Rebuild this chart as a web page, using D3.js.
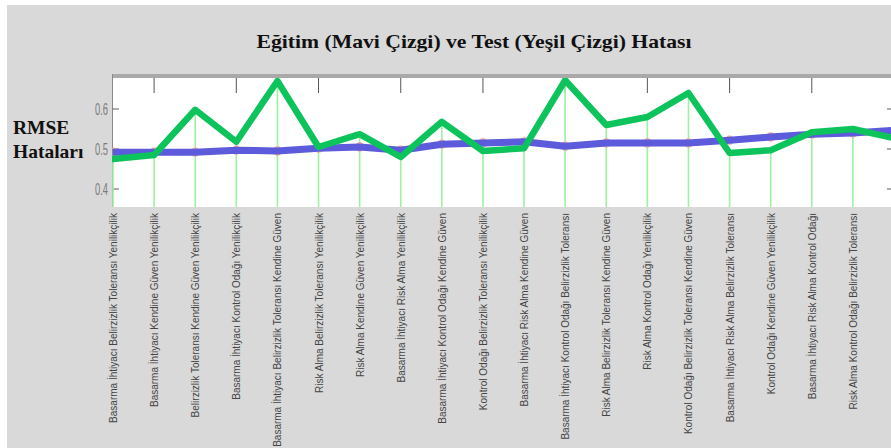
<!DOCTYPE html>
<html><head><meta charset="utf-8">
<script src="https://cdn.jsdelivr.net/npm/d3@7"></script>
<style>body{margin:0;background:#fff}svg{display:block}</style>
</head><body>
<svg id="c" width="891" height="448"></svg>
<script>
const categories = [
  "Basarma İhtiyacı Belirzizlik Toleransı Yenilikçilik",
  "Basarma İhtiyacı Kendine Güven Yenilikçilik",
  "Belirzizlik Toleransı Kendine Güven Yenilikçilik",
  "Basarma İhtiyacı Kontrol Odağı Yenilikçilik",
  "Basarma İhtiyacı Belirzizlik Toleransı Kendine Güven",
  "Risk Alma Belirzizlik Toleransı Yenilikçilik",
  "Risk Alma Kendine Güven Yenilikçilik",
  "Basarma İhtiyacı Risk Alma Yenilikçilik",
  "Basarma İhtiyacı Kontrol Odağı Kendine Güven",
  "Kontrol Odağı Belirzizlik Toleransı Yenilikçilik",
  "Basarma İhtiyacı Risk Alma Kendine Güven",
  "Basarma İhtiyacı Kontrol Odağı Belirzizlik Toleransı",
  "Risk Alma Belirzizlik Toleransı Kendine Güven",
  "Risk Alma Kontrol Odağı Yenilikçilik",
  "Kontrol Odağı Belirzizlik Toleransı Kendine Güven",
  "Basarma İhtiyacı Risk Alma Belirzizlik Toleransı",
  "Kontrol Odağı Kendine Güven Yenilikçilik",
  "Basarma İhtiyacı Risk Alma Kontrol Odağı",
  "Risk Alma Kontrol Odağı Belirzizlik Toleransı",
  "Risk Alma Kontrol Odağı Kendine Güven"
];
const trainRMSE = [0.492,0.492,0.492,0.497,0.495,0.502,0.505,0.497,0.512,0.515,0.518,0.507,0.515,0.515,0.515,0.522,0.530,0.537,0.540,0.547];
const testRMSE  = [0.475,0.485,0.598,0.518,0.670,0.505,0.537,0.480,0.568,0.495,0.502,0.672,0.560,0.580,0.640,0.490,0.497,0.542,0.550,0.527];
const yTicks = [0.4,0.5,0.6];
const yTickLabels = ["0.4","0.5","0.6"];
const titleText = "Eğitim (Mavi Çizgi) ve Test (Yeşil Çizgi) Hatası";
const yLabelLines = ["RMSE","Hataları"];

const svg = d3.select("#c");
const W = 891, H = 448;
const plot = {left:112, right:894, top:78, bottom:207};

svg.append("rect").attr("x",0).attr("y",0).attr("width",W).attr("height",H).attr("fill","#fff");
svg.append("rect").attr("x",7).attr("y",5).attr("width",W-7).attr("height",H-5).attr("fill","#d9d9d9");

const x = d3.scalePoint().domain(d3.range(categories.length)).range([plot.left+1, plot.right]);
const y = d3.scaleLinear().domain([0.4,0.6]).range([189,109]);

// plot background and frame
svg.append("rect").attr("x",plot.left).attr("y",plot.top).attr("width",plot.right-plot.left).attr("height",plot.bottom-plot.top).attr("fill","#fff");
svg.append("rect").attr("x",plot.left).attr("y",plot.top-4).attr("width",plot.right-plot.left).attr("height",4).attr("fill","#a9a9a9");
svg.append("line").attr("x1",plot.left+0.5).attr("x2",plot.left+0.5).attr("y1",plot.top-4).attr("y2",plot.bottom).attr("stroke","#8a8a8a").attr("stroke-width",1);

svg.append("clipPath").attr("id","pc").append("rect")
  .attr("x",plot.left).attr("y",plot.top).attr("width",plot.right-plot.left).attr("height",plot.bottom-plot.top);
const g = svg.append("g").attr("clip-path","url(#pc)");

// top ticks (every other category)
g.selectAll("line.tt").data(d3.range(1,categories.length,2)).join("line")
  .attr("x1",d=>x(d)).attr("x2",d=>x(d)).attr("y1",plot.top).attr("y2",plot.top+15)
  .attr("stroke","#555").attr("stroke-width",1);

// y ticks left and right
g.selectAll("line.yl").data(yTicks).join("line")
  .attr("x1",plot.left).attr("x2",plot.left+7).attr("y1",d=>y(d)).attr("y2",d=>y(d))
  .attr("stroke","#777").attr("stroke-width",1.2);
g.selectAll("line.yr").data(yTicks).join("line")
  .attr("x1",plot.right-7).attr("x2",plot.right).attr("y1",d=>y(d)).attr("y2",d=>y(d))
  .attr("stroke","#777").attr("stroke-width",1.2);

// stems
g.selectAll("line.stem").data(testRMSE).join("line")
  .attr("x1",(d,i)=>x(i)).attr("x2",(d,i)=>x(i)).attr("y1",d=>y(d)).attr("y2",plot.bottom)
  .attr("stroke","#9ef29e").attr("stroke-width",1.6);

// red circle markers at training values
g.selectAll("circle.m").data(trainRMSE).join("circle")
  .attr("cx",(d,i)=>x(i)).attr("cy",d=>y(d)).attr("r",4)
  .attr("fill","none").attr("stroke","#f2a39c").attr("stroke-width",1.3);

const line = d3.line().x((d,i)=>x(i)).y(d=>y(d));
g.append("path").datum(trainRMSE).attr("d",line).attr("fill","none")
  .attr("stroke","#5b5bdb").attr("stroke-width",7).attr("stroke-linejoin","round");
g.append("path").datum(testRMSE).attr("d",line).attr("fill","none")
  .attr("stroke","#0cc35c").attr("stroke-width",6.5).attr("stroke-linejoin","round").attr("stroke-linecap","round");

// y tick labels
svg.selectAll("text.yt").data(yTicks).join("text")
  .attr("x",108).attr("y",d=>y(d)).attr("dy","0.36em").attr("text-anchor","end")
  .attr("font-family","Liberation Sans, Arial, sans-serif").attr("font-size",16)
  .attr("textLength",13).attr("lengthAdjust","spacingAndGlyphs")
  .attr("fill","#7a7a7a").text((d,i)=>yTickLabels[i]);

// x labels (only those whose tick lies inside the visible window)
svg.selectAll("text.xl").data(categories.map((c,i)=>({c,i})).filter(d=>x(d.i) < W-8)).join("text")
  .attr("transform",d=>`translate(${x(d.i)+0.5},213) rotate(-90)`)
  .attr("dy","0.35em").attr("text-anchor","end")
  .attr("font-family","Liberation Sans, Arial, sans-serif").attr("font-size",10)
  .attr("fill","#444").text(d=>d.c);

// title
svg.append("text").attr("x",474).attr("y",48).attr("text-anchor","middle")
  .attr("font-family","Liberation Serif, Times New Roman, serif").attr("font-weight","bold")
  .attr("font-size",19).attr("textLength",435).attr("lengthAdjust","spacingAndGlyphs")
  .attr("fill","#111").text(titleText);

// y label
svg.selectAll("text.yl").data(yLabelLines).join("text")
  .attr("x",13).attr("y",(d,i)=>134+i*24)
  .attr("font-family","Liberation Serif, Times New Roman, serif").attr("font-weight","bold")
  .attr("font-size",19.5).attr("fill","#111").text(d=>d);
</script>
</body></html>
